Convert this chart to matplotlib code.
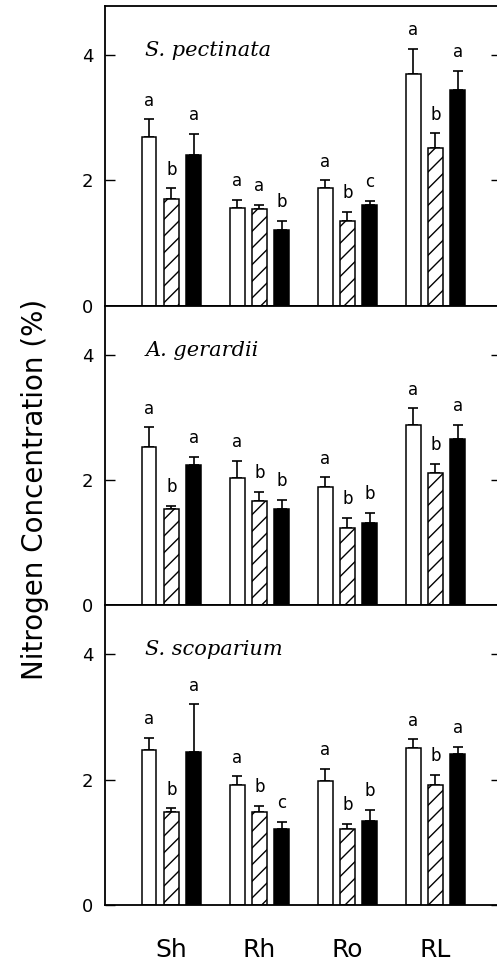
import matplotlib
matplotlib.use("Agg")
import matplotlib.pyplot as plt
import numpy as np

plt.rcParams['hatch.linewidth'] = 1.0

# ---- data ----
categories = ["Sh", "Rh", "Ro", "RL"]
species = ["S. pectinata", "A. gerardii", "S. scoparium"]

# means (%), upper standard error, and letters for open / hatched / solid bars
open_mean = [[2.69, 1.56, 1.88, 3.70],
             [2.52, 2.03, 1.89, 2.88],
             [2.47, 1.91, 1.98, 2.50]]
open_err = [[0.28, 0.13, 0.12, 0.40],
            [0.32, 0.27, 0.15, 0.26],
            [0.20, 0.14, 0.19, 0.14]]
hatch_mean = [[1.70, 1.54, 1.35, 2.52],
              [1.54, 1.66, 1.24, 2.11],
              [1.49, 1.49, 1.21, 1.92]]
hatch_err = [[0.17, 0.07, 0.15, 0.23],
             [0.05, 0.15, 0.16, 0.15],
             [0.05, 0.09, 0.09, 0.16]]
solid_mean = [[2.41, 1.21, 1.60, 3.44],
              [2.24, 1.53, 1.32, 2.65],
              [2.44, 1.21, 1.34, 2.41]]
solid_err = [[0.33, 0.14, 0.07, 0.30],
             [0.13, 0.15, 0.15, 0.23],
             [0.76, 0.12, 0.18, 0.11]]
open_letters = [["a", "a", "a", "a"], ["a", "a", "a", "a"], ["a", "a", "a", "a"]]
hatch_letters = [["b", "a", "b", "b"], ["b", "b", "b", "b"], ["b", "b", "b", "b"]]
solid_letters = [["a", "b", "c", "a"], ["a", "b", "b", "a"], ["a", "c", "b", "a"]]

yticks = [0, 2, 4]

# ---- figure ----
W, H = 497, 963
fig = plt.figure(figsize=(W / 100, H / 100), dpi=100)

left = 105 / W
right_px = 501
width = (right_px - 105) / W
bottom0 = 1 - 905 / H
top0 = 1 - 6 / H
ph = (top0 - bottom0) / 3

x = np.arange(1, len(categories) + 1)
off = 0.254
bw = 0.17

for i in range(3):
    ax = fig.add_axes([left, bottom0 + (2 - i) * ph, width, ph])
    series = [
        (open_mean[i], open_err[i], open_letters[i], dict(facecolor="white", hatch=None)),
        (hatch_mean[i], hatch_err[i], hatch_letters[i], dict(facecolor="white", hatch="//")),
        (solid_mean[i], solid_err[i], solid_letters[i], dict(facecolor="black", hatch=None)),
    ]
    for k, (m, e, lets, style) in enumerate(series):
        xs = x + (k - 1) * off
        ax.bar(xs, m, width=bw, edgecolor="black", linewidth=1.1, zorder=2, **style)
        ax.errorbar(xs, m, yerr=[np.zeros(len(m)), e], fmt="none", ecolor="black",
                    elinewidth=1.2, capsize=3.6, capthick=1.2, zorder=1)
        for xx, mm, ee, lt in zip(xs, m, e, lets):
            ax.annotate(lt, (xx, mm + ee), xytext=(0, 13.5), textcoords="offset points",
                        ha="center", va="center", fontsize=12)
    ax.set_xlim(0.246, 4.745)
    ax.set_ylim(0, 4.78)
    ax.set_yticks(yticks)
    ax.set_yticklabels([str(t) for t in yticks])
    ax.tick_params(axis="y", direction="in", length=7, width=1.0, left=True,
                   right=True, labelsize=13, pad=8.5)
    for s in ax.spines.values():
        s.set_linewidth(1.3)
    ax.text(0.706, 4.07, species[i], fontsize=15, style="italic", family="DejaVu Serif",
            ha="left", va="center")
    ax.set_xticks(x)
    if i == 2:
        ax.set_xticklabels(categories, fontsize=18)
        ax.tick_params(axis="x", length=0, pad=24)
    else:
        ax.set_xticklabels([])
        ax.tick_params(axis="x", length=0)

fig.text(35 / W, 1 - 489 / H, "Nitrogen Concentration (%)", rotation=90,
         ha="center", va="center", fontsize=20)

fig.savefig("out.png", dpi=100)
